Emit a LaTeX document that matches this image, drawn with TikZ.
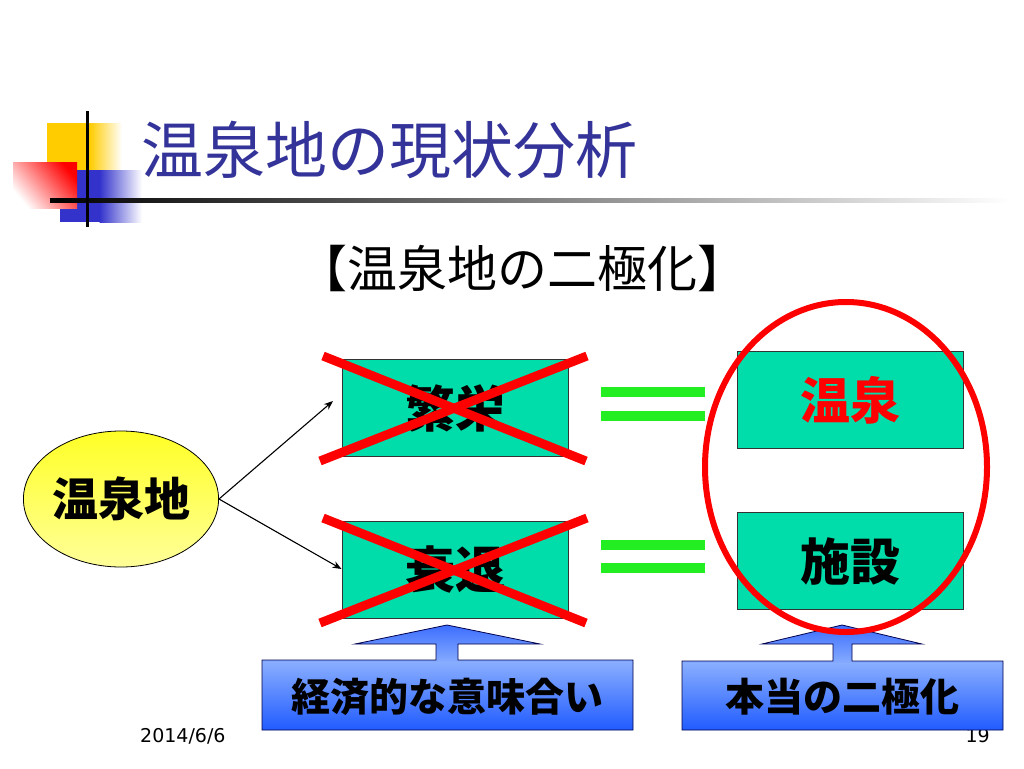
\documentclass[tikz,border=0pt]{standalone}
\usepackage{fontspec}
\newfontfamily\jp{Noto Sans CJK JP}
\newfontfamily\dt{DejaVu Sans}
\usetikzlibrary{arrows.meta,shapes.geometric,calc}
\definecolor{titleblue}{HTML}{333399}
\definecolor{decoyellow}{HTML}{FFCC00}
\definecolor{decoblue}{HTML}{3333CC}
\definecolor{decored}{HTML}{FF0000}
\definecolor{boxgreen}{HTML}{00DDAA}
\definecolor{eqgreen}{HTML}{22EE22}
\definecolor{ctip}{HTML}{3A6CFF}
\definecolor{clight}{HTML}{88ADFF}
\definecolor{cbase}{HTML}{1F5AFF}
\definecolor{xred}{HTML}{FF0000}
\tikzset{
  greenbox/.style={rectangle, draw=black!80, line width=1pt, fill=boxgreen,
    minimum width=226pt, minimum height=97pt, inner sep=0pt,
    font=\jp\bfseries\fontsize{50}{50}\selectfont},
  crossline/.style={draw=xred, line width=9pt},
  eqbar/.style={fill=eqgreen},
  calloutline/.style={draw=black!70!blue, line width=0.8pt},
  callouttext/.style={font=\jp\bfseries\fontsize{39}{39}\selectfont, inner sep=0pt},
  branch/.style={draw=black, line width=1.1pt, -{Stealth[length=9pt,width=7pt]}},
}
\begin{document}
\begin{tikzpicture}[x=1pt,y=-1pt]
\path[use as bounding box, fill=white] (0,0) rectangle (1024,768);

% title decoration
\fill[decoyellow] (47,123) rectangle (90,170);
\shade[left color=decoyellow, right color=white] (89.5,123) rectangle (122,170);
\fill[decoblue] (60,170) rectangle (100,222);
\shade[left color=decoblue, right color=white] (99.5,170) rectangle (142,222);
\shade[top color=decored, bottom color=white, shading angle=-50] (13,162) rectangle (77,208);
\shade[left color=black, right color=white] (50,198) rectangle (1010,202);
\draw[black, line width=3pt] (87,111) -- (87,227);

% title
\node[anchor=west, text=titleblue, inner sep=0pt, font=\jp\fontsize{62}{62}\selectfont] (title) at (141,150) {温泉地の現状分析};
\node[inner sep=0pt, font=\jp\fontsize{50}{50}\selectfont] (subtitle) at (522,268) {【温泉地の二極化】};

% left ellipse
\node[ellipse, draw=black, line width=0.8pt, top color=yellow!85!white, bottom color=yellow!40!white,
  minimum width=186pt, minimum height=136pt, inner sep=0pt,
  font=\jp\bfseries\fontsize{46}{46}\selectfont] (onsen) at (121,499) {温泉地};

% boxes
\node[greenbox] (han) at (455,408) {繁栄};
\node[greenbox] (sui) at (455,570) {衰退};
\node[greenbox, text=red] (onsenR) at (850,400) {温泉};
\node[greenbox] (shisetsu) at (850,561) {施設};

% arrows
\coordinate (tipA) at (333,401);
\draw[branch] (onsen.east) -- (tipA);
\draw[branch] (onsen.east) -- (sui.west |- 0,569);

% crosses
\draw[crossline] ($(han)+(-132,-52)$) -- ($(han)+(131,53)$);
\draw[crossline] ($(han)+(132,-52)$) -- ($(han)+(-135,53)$);
\draw[crossline] ($(sui)+(-132,-52)$) -- ($(sui)+(131,53)$);
\draw[crossline] ($(sui)+(132,-52)$) -- ($(sui)+(-135,53)$);

% equals signs
\fill[eqbar] (601,387) rectangle (705,397);
\fill[eqbar] (601,411) rectangle (705,421);
\fill[eqbar] (601,540) rectangle (705,550);
\fill[eqbar] (601,563) rectangle (705,573);

% footer
\node[anchor=base west, inner sep=0pt, font=\dt\fontsize{19}{19}\selectfont] (date) at (140,742) {2014/6/6};
\node[anchor=base east, inner sep=0pt, font=\dt\fontsize{19}{19}\selectfont] (page) at (990,742) {19};

% callouts
\def\calloutA{(262,660) -- (436,660) -- (436,644) -- (355,644) -- (447,625) -- (540,644) -- (458,644) -- (458,660) -- (633,660) -- (633,730) -- (262,730) -- cycle}
\def\calloutB{(682,661) -- (833,661) -- (833,644) -- (762,644) -- (842,625) -- (922,644) -- (852,644) -- (852,661) -- (1003,661) -- (1003,730) -- (682,730) -- cycle}
\begin{scope}
\clip \calloutA;
\shade[top color=ctip, bottom color=clight] (255,624) rectangle (640,663);
\shade[top color=clight, bottom color=cbase] (255,662.5) rectangle (640,731);
\end{scope}
\draw[calloutline] \calloutA;
\begin{scope}
\clip \calloutB;
\shade[top color=ctip, bottom color=clight] (675,624) rectangle (1010,664);
\shade[top color=clight, bottom color=cbase] (675,663.5) rectangle (1010,731);
\end{scope}
\draw[calloutline] \calloutB;
\node[callouttext] (keizai) at (447,697) {経済的な意味合い};
\node[callouttext] (nikyoku) at (842,697) {本当の二極化};

% red ring
\node[ellipse, draw=xred, line width=6pt, minimum width=282pt, minimum height=330pt, inner sep=0pt] (ring) at (846,467) {};
\end{tikzpicture}
\end{document}
